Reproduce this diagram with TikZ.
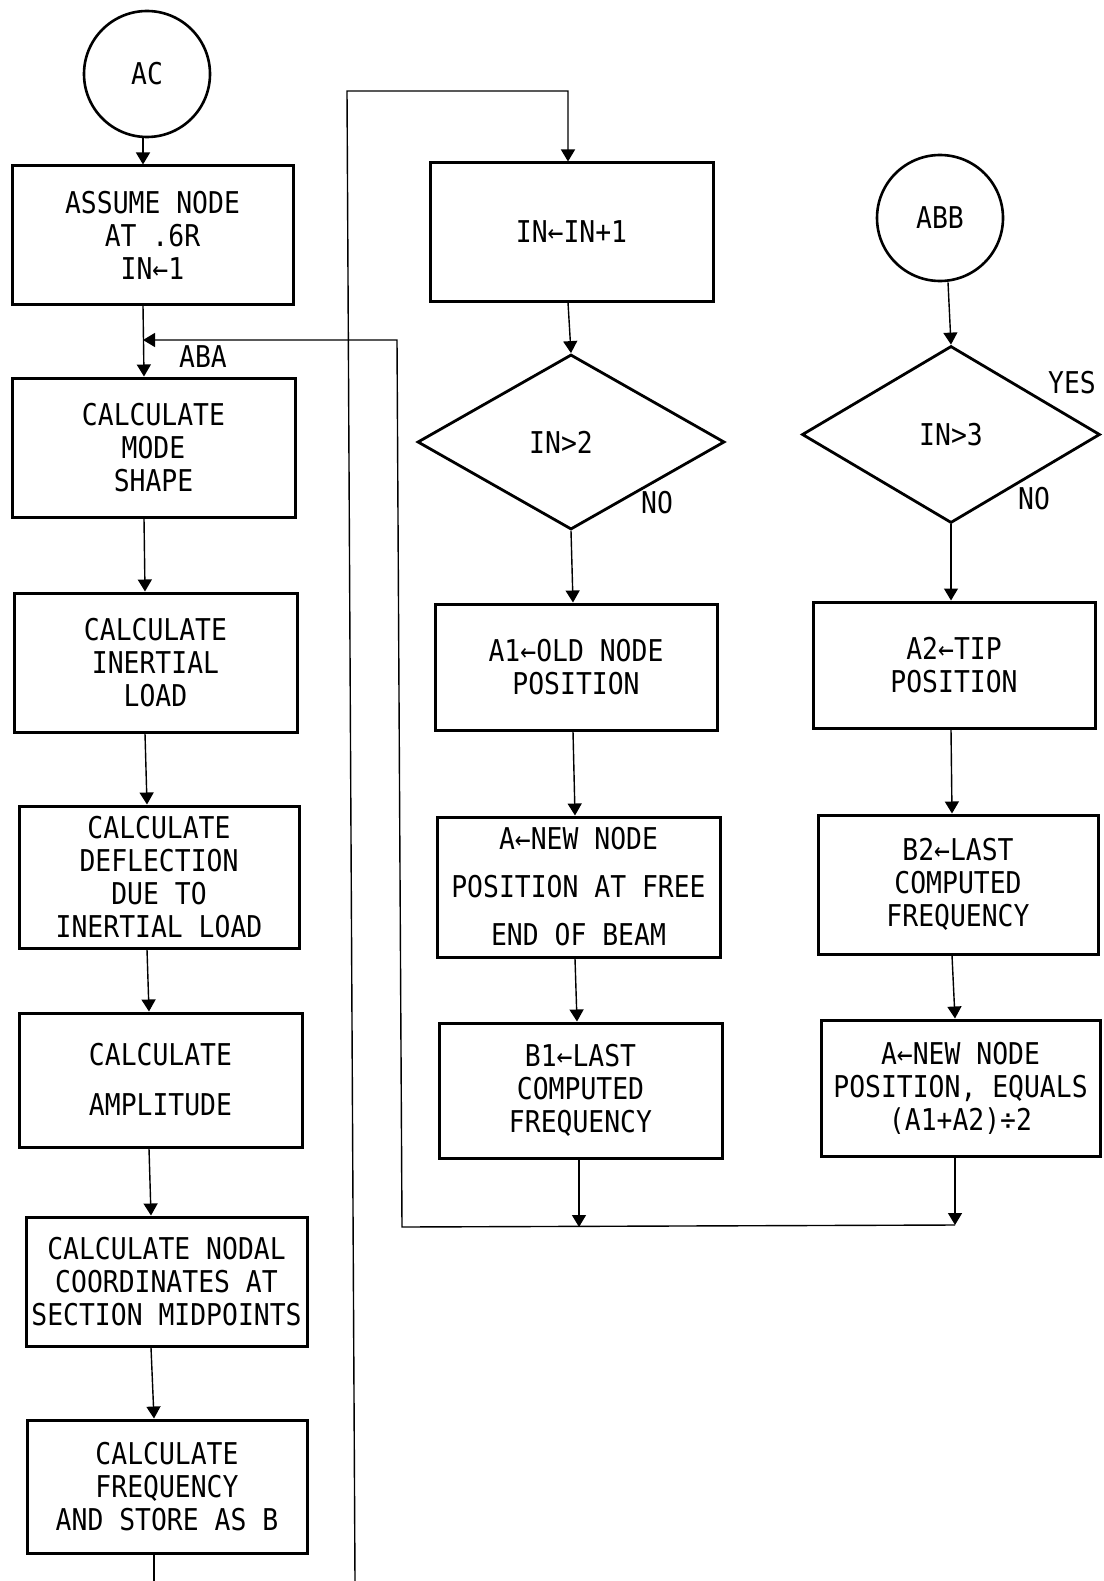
\documentclass[tikz,border=0pt]{standalone}
\usepackage{fontspec}
\newfontfamily\lett[FakeStretch=0.88]{DejaVu Sans Mono}
\usetikzlibrary{shapes.geometric,arrows.meta}
\begin{document}
\begin{tikzpicture}[x=1pt,y=-1pt,
  txt/.style={font=\lett\fontsize{30}{33}\selectfont},
  box/.style={txt,draw,rectangle,line width=3pt,inner sep=0pt,align=center},
  dia/.style={txt,draw,diamond,line width=2.8pt,inner sep=0pt},
  term/.style={txt,draw,circle,line width=2.6pt,minimum size=126pt,inner sep=0pt},
  conn/.style={line width=1.4pt},
  arr/.style={conn,-{Triangle[length=12pt,width=14pt]}},
  lbl/.style={txt,inner sep=0pt}]
\useasboundingbox (0,0) rectangle (1103,1581);

% left column
\node[term] (ac) at (147,74) {AC};
\node[box,minimum width=281pt,minimum height=138pt] (b1) at (152.5,235) {ASSUME NODE\\AT .6R\\IN←1};
\node[box,minimum width=283pt,minimum height=139pt] (b2) at (153.5,447.5) {CALCULATE\\MODE\\SHAPE};
\node[box,minimum width=283pt,minimum height=139pt] (b3) at (155.5,662.5) {CALCULATE\\INERTIAL\\LOAD};
\node[box,minimum width=280pt,minimum height=142pt] (b4) at (159,877) {CALCULATE\\DEFLECTION\\DUE TO\\INERTIAL LOAD};
\node[box,minimum width=283pt,minimum height=134pt] (b5) at (160.5,1080) {CALCULATE\\[17pt]AMPLITUDE};
\node[box,minimum width=281pt,minimum height=129pt] (b6) at (166.5,1281.5) {CALCULATE NODAL\\COORDINATES AT\\SECTION MIDPOINTS};
\node[box,minimum width=280pt,minimum height=133pt] (b7) at (167,1486.5) {CALCULATE\\FREQUENCY\\AND STORE AS B};

% middle column
\node[box,minimum width=283pt,minimum height=138pt] (c1) at (571.5,232) {IN←IN+1};
\node[dia,minimum width=307pt,minimum height=175pt] (d1) at (571,442) {IN>2\hspace*{20pt}};
\node[box,minimum width=282pt,minimum height=126pt] (c2) at (576,667) {A1←OLD NODE\\POSITION};
\node[box,minimum width=283pt,minimum height=140pt] (c3) at (578.5,887) {A←NEW NODE\\[15pt]POSITION AT FREE\\[15pt]END OF BEAM};
\node[box,minimum width=283pt,minimum height=135pt] (c4) at (580.5,1090.5) {B1←LAST\\COMPUTED\\FREQUENCY};

% right column
\node[term] (abb) at (940,218) {ABB};
\node[dia,minimum width=298pt,minimum height=177pt] (d2) at (951,434.5) {IN>3};
\node[box,minimum width=282pt,minimum height=126pt] (r1) at (954,665) {A2←TIP\\POSITION};
\node[box,minimum width=280pt,minimum height=139pt] (r2) at (958,884.5) {B2←LAST\\COMPUTED\\FREQUENCY};
\node[box,minimum width=279pt,minimum height=136pt] (r3) at (960.5,1088) {A←NEW NODE\\POSITION, EQUALS\\(A1+A2)÷2};

% labels
\node[lbl] (laba) at (203,357) {ABA};
\node[lbl] (lno1) at (657,503) {NO};
\node[lbl] (lno2) at (1034,499) {NO};
\node[lbl] (lyes) at (1072,383) {YES};

% coordinates for free ends
\coordinate (aba) at (143,340);
\coordinate (ul) at (397,340);
\coordinate (jl) at (402,1227);
\coordinate (j1) at (579,1227);
\coordinate (jr) at (955,1225);
\coordinate (bot1) at (154,1581);
\coordinate (bot2) at (355,1581);
\coordinate (tl) at (347,91);
\coordinate (tr) at (568,91);

% left column connectors
\draw[arr] (ac.south -| 143,0) -- (b1.north -| 143,0);
\draw[arr] (b1.south -| 143,0) -- (b2.north -| 144,0);
\draw[arr] (b2.south -| 144,0) -- (b3.north -| 145,0);
\draw[arr] (b3.south -| 145,0) -- (b4.north -| 147,0);
\draw[arr] (b4.south -| 147,0) -- (b5.north -| 149,0);
\draw[arr] (b5.south -| 149,0) -- (b6.north -| 151,0);
\draw[arr] (b6.south -| 151,0) -- (b7.north -| 154,0);
\draw[conn] (b7.south -| bot1) -- (bot1);

% loop to IN<-IN+1
\draw[arr] (bot2) -- (tl) -- (tr) -- (c1.north -| tr);

% middle column connectors
\draw[arr] (c1.south -| 568,0) -- (d1.north);
\draw[arr] (d1.south) -- (c2.north -| 573,0);
\draw[arr] (c2.south -| 573,0) -- (c3.north -| 575,0);
\draw[arr] (c3.south -| 575,0) -- (c4.north -| 577,0);
\draw[arr] (c4.south -| j1) -- (j1);

% right column connectors
\draw[arr] (abb.south -| 948,0) -- (d2.north);
\draw[arr] (d2.south) -- (r1.north -| 951,0);
\draw[arr] (r1.south -| 951,0) -- (r2.north -| 952,0);
\draw[arr] (r2.south -| 952,0) -- (r3.north -| 955,0);
\draw[arr] (r3.south -| jr) -- (jr);

% return path to ABA
\draw[arr] (jr) -- (jl) -- (ul) -- (aba);
\end{tikzpicture}
\end{document}
